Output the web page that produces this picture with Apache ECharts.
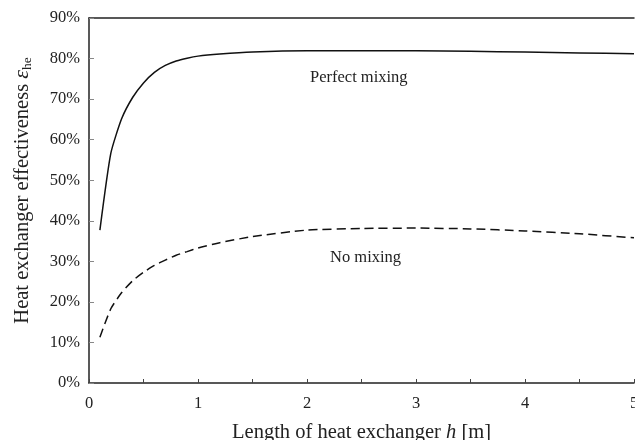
<!DOCTYPE html>
<html>
<head>
<meta charset="utf-8">
<script src="https://cdn.jsdelivr.net/npm/echarts@6/dist/echarts.min.js"></script>
<style>
  html, body { margin: 0; padding: 0; background: #fff; }
  #chart { width: 635px; height: 440px; }
</style>
</head>
<body>
<div id="chart"></div>
<script>
// lengths of heat exchanger h [m]
const lengths = [0.1, 0.2, 0.3, 0.4, 0.5, 0.6, 0.7, 0.8, 0.9, 1.0, 1.2, 1.5, 2, 2.5, 3, 3.5, 4, 4.5, 5];
// effectiveness [%]
const perfectMixing = [37.7, 56.6, 65.2, 70.4, 74.0, 76.6, 78.3, 79.4, 80.1, 80.6, 81.1, 81.6, 81.9, 81.9, 81.9, 81.8, 81.6, 81.4, 81.2];
const noMixing = [11.3, 18.3, 22.3, 25.2, 27.3, 29.0, 30.3, 31.5, 32.4, 33.3, 34.6, 36.1, 37.7, 38.1, 38.2, 38.0, 37.5, 36.8, 35.8];

const serif = "Liberation Serif";
const ink = "#222";

const pairs = (ys) => lengths.map((x, i) => [x, ys[i]]);

const myChart = echarts.init(document.getElementById("chart"));
const option = {
    backgroundColor: "#fff",
    animation: false,
    grid: { left: 89, top: 18, right: 1, bottom: 57, outerBoundsMode: "none", containLabel: false },
    xAxis: [
        {
            type: "value",
            min: 0,
            max: 5,
            interval: 1,
            name: "Length of heat exchanger {i|h} [m]",
            nameLocation: "middle",
            nameGap: 39,
            nameTextStyle: {
                fontFamily: serif, fontSize: 20.5, color: ink,
                rich: { i: { fontFamily: serif, fontStyle: "italic", fontSize: 20.5, color: ink } }
            },
            axisLine: { lineStyle: { color: ink, width: 1.5 } },
            axisTick: { inside: true, length: 4, lineStyle: { color: "#444" } },
            minorTick: { show: true, splitNumber: 2, length: 4, lineStyle: { color: "#444" } },
            axisLabel: { fontFamily: serif, fontSize: 16.5, color: ink, margin: 12, showMaxLabel: true },
            splitLine: { show: false }
        },
        {
            type: "value",
            position: "top",
            min: 0,
            max: 5,
            axisLine: { show: true, lineStyle: { color: ink, width: 1.5 } },
            axisTick: { show: false },
            axisLabel: { show: false },
            splitLine: { show: false }
        }
    ],
    yAxis: {
        type: "value",
        min: 0,
        max: 90,
        interval: 10,
        name: "Heat exchanger effectiveness {e|ε}{s|he}",
        nameLocation: "middle",
        nameGap: 55,
        nameTextStyle: {
            fontFamily: serif, fontSize: 20.5, color: ink,
            padding: [0, 0, 0, 20],
            rich: {
                e: { fontFamily: serif, fontStyle: "italic", fontSize: 22, color: ink },
                s: { fontFamily: serif, fontSize: 13.5, color: ink, padding: [9, 0, 0, 0] }
            }
        },
        axisLine: { show: true, lineStyle: { color: ink, width: 1.5 } },
        axisTick: { show: true, inside: true, length: 5, lineStyle: { color: "#888" } },
        axisLabel: { fontFamily: serif, fontSize: 16.5, color: ink, margin: 9, formatter: "{value}%" },
        splitLine: { show: false }
    },
    series: [
        {
            name: "Perfect mixing",
            type: "line",
            data: pairs(perfectMixing),
            symbol: "none",
            smooth: 0.2,
            lineStyle: { color: "#111", width: 1.5 }
        },
        {
            name: "No mixing",
            type: "line",
            data: pairs(noMixing),
            symbol: "none",
            smooth: 0.2,
            lineStyle: { color: "#111", width: 1.5, type: [9, 5] }
        }
    ],
    graphic: [
        {
            type: "text", left: 310, top: 69,
            style: { text: "Perfect mixing", font: "16.5px " + serif, fill: ink }
        },
        {
            type: "text", left: 330, top: 249,
            style: { text: "No mixing", font: "16.5px " + serif, fill: ink }
        }
    ]
};
myChart.setOption(option);
</script>
</body>
</html>
